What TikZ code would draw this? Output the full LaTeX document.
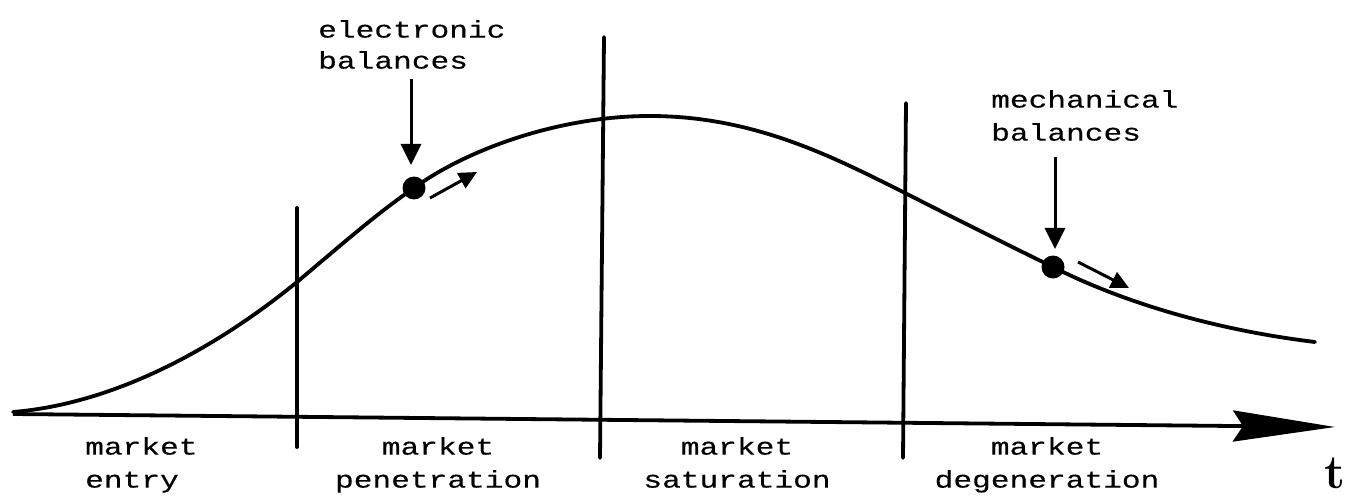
\documentclass[tikz,border=0pt]{standalone}
\usepackage{fontspec}
\newfontfamily\typew[FakeStretch=1.3,FakeBold=0.35]{Liberation Mono}
\usetikzlibrary{arrows.meta}
\begin{document}
\begin{tikzpicture}[x=1pt,y=-1pt,
  lbl/.style={font=\typew\fontsize{24}{33}\selectfont, inner sep=0pt},
  curveline/.style={line width=3.8pt, line cap=round},
  vline/.style={line width=3.8pt, line cap=round},
  axisline/.style={line width=3.8pt, -{Stealth[length=102pt,width=31pt,inset=10pt]}},
  pointer/.style={line width=3pt, -{Triangle[length=21pt,width=20pt]}},
  motion/.style={line width=3pt, -{Triangle[length=18pt,width=17pt]}},
  dot/.style={circle, fill=black, inner sep=0pt, minimum size=23pt}]
\useasboundingbox (0,0) rectangle (1357,497);

% axis
\coordinate (o) at (13,414);
\coordinate (tip) at (1335,427);
\draw[axisline] (o) -- (tip);
\node[font=\bfseries\fontsize{48}{48}\selectfont, anchor=base, inner sep=0pt] (t) at (1335,488) {t};

% phase separators
\coordinate (s1t) at (297,208); \coordinate (s1b) at (297,447);
\coordinate (s2t) at (604,37);  \coordinate (s2b) at (600,458);
\coordinate (s3t) at (906,103); \coordinate (s3b) at (903,458);
\draw[vline] (s1t) -- (s1b);
\draw[vline] (s2t) -- (s2b);
\draw[vline] (s3t) -- (s3b);

% product markers
\node[dot] (eb) at (414,188) {};
\node[dot] (mb) at (1053,267) {};

% life-cycle curve
\coordinate (c0) at (13,412);
\coordinate (c1) at (297,282);
\coordinate (c3) at (650,116);
\coordinate (c4) at (905,193);
\coordinate (c6) at (1315,342);
\draw[curveline] (c0) .. controls (110,404) and (210,353) .. (c1)
  .. controls (340,246) and (376,214) .. (eb.center)
  .. controls (463,152) and (555,116) .. (c3)
  .. controls (755,116) and (835,158) .. (c4)
  .. controls (960,221) and (1010,246) .. (mb.center)
  .. controls (1110,296) and (1200,328) .. (c6);

% labels
\node[lbl, font=\typew\fontsize{24}{31}\selectfont, anchor=north west, align=left] (ebl) at (318,20) {electronic\\balances};
\node[lbl, anchor=north west, align=left] (mbl) at (991,90) {mechanical\\balances};

\coordinate (ebtop) at (411,79);  \coordinate (ebtip) at (411,165);
\coordinate (mbtop) at (1055,157); \coordinate (mbtip) at (1055,249);
\draw[pointer] (ebtop) -- (ebtip);
\draw[pointer] (mbtop) -- (mbtip);

\coordinate (ea) at (430,198); \coordinate (eb2) at (477,172);
\coordinate (ma) at (1078,262); \coordinate (mb2) at (1129,288);
\draw[motion] (ea) -- (eb2);
\draw[motion] (ma) -- (mb2);

% phase names
\node[lbl, anchor=north west, align=left] (p1) at (85,437) {market\\entry};
\node[lbl, anchor=north, align=center] (p2) at (438,437) {market\\penetration};
\node[lbl, anchor=north, align=center] (p3) at (737,437) {market\\saturation};
\node[lbl, anchor=north, align=center] (p4) at (1047,437) {market\\degeneration};
\end{tikzpicture}
\end{document}
